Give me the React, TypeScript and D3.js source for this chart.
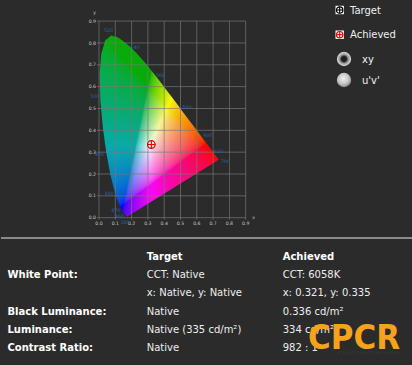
import React, { useMemo } from "react";
import * as d3 from "d3";

// CIE 1931 spectral locus (wavelength nm, x, y)
const WAVELENGTHS = [380,385,390,395,400,405,410,415,420,425,430,435,440,445,450,455,460,465,470,475,480,485,490,495,500,505,510,515,520,525,530,535,540,545,550,555,560,565,570,575,580,585,590,595,600,605,610,615,620,625,630,635,640,645,650,655,660,665,670,675,680,685,690,695,700];
const LOCUS_X = [0.1741,0.1740,0.1738,0.1736,0.1733,0.1730,0.1726,0.1721,0.1714,0.1703,0.1689,0.1669,0.1644,0.1611,0.1566,0.1510,0.1440,0.1355,0.1241,0.1096,0.0913,0.0687,0.0454,0.0235,0.0082,0.0039,0.0139,0.0389,0.0743,0.1142,0.1547,0.1929,0.2296,0.2658,0.3016,0.3373,0.3731,0.4087,0.4441,0.4788,0.5125,0.5448,0.5752,0.6029,0.6270,0.6482,0.6658,0.6801,0.6915,0.7006,0.7079,0.7140,0.7190,0.7230,0.7260,0.7283,0.7300,0.7311,0.7320,0.7327,0.7334,0.7340,0.7344,0.7346,0.7347];
const LOCUS_Y = [0.0050,0.0050,0.0049,0.0049,0.0048,0.0048,0.0048,0.0048,0.0051,0.0058,0.0069,0.0086,0.0109,0.0138,0.0177,0.0227,0.0297,0.0399,0.0578,0.0868,0.1327,0.2007,0.2950,0.4127,0.5384,0.6548,0.7502,0.8120,0.8338,0.8262,0.8059,0.7816,0.7543,0.7243,0.6923,0.6589,0.6245,0.5896,0.5547,0.5202,0.4866,0.4544,0.4242,0.3965,0.3725,0.3514,0.3340,0.3197,0.3083,0.2993,0.2920,0.2859,0.2809,0.2770,0.2740,0.2717,0.2700,0.2689,0.2680,0.2673,0.2666,0.2660,0.2656,0.2654,0.2653];
const LABELED_WAVELENGTHS = [380, 460, 470, 480, 490, 500, 520, 540, 560, 580, 600, 620, 700];

const TICKS = [0, 0.1, 0.2, 0.3, 0.4, 0.5, 0.6, 0.7, 0.8, 0.9];
const TICK_LABELS = ["0.0", "0.1", "0.2", "0.3", "0.4", "0.5", "0.6", "0.7", "0.8", "0.9"];

const ACHIEVED_X = 0.321;
const ACHIEVED_Y = 0.335;

const LEGEND_ITEMS = ["Target", "Achieved"];
const RADIO_ITEMS = ["xy", "u'v'"];

const COL_HEADERS = ["Target", "Achieved"];
const ROW_LABELS = ["White Point:", "", "Black Luminance:", "Luminance:", "Contrast Ratio:"];
const TARGET_VALUES = ["CCT: Native", "x: Native, y: Native", "Native", "Native (335 cd/m²)", "Native"];
const ACHIEVED_VALUES = ["CCT: 6058K", "x: 0.321, y: 0.335", "0.336 cd/m²", "334 cd/m²", "982 : 1"];

const W = 412;
const H = 365;
const BG = "#2b2b2b";
const FONT = "'DejaVu Sans', Verdana, sans-serif";

const xScale = d3.scaleLinear().domain([0, 0.9]).range([99, 245.7]);
const yScale = d3.scaleLinear().domain([0, 0.9]).range([217.7, 21.1]);

function xyToRgb(x: number, y: number): [number, number, number] {
  const Y = 1;
  const X = (x / y) * Y;
  const Z = ((1 - x - y) / y) * Y;
  let r = 3.2406 * X - 1.5372 * Y - 0.4986 * Z;
  let g = -0.9689 * X + 1.8758 * Y + 0.0415 * Z;
  let b = 0.0557 * X - 0.204 * Y + 1.057 * Z;
  r = Math.max(0, r);
  g = Math.max(0, g);
  b = Math.max(0, b);
  const m = Math.max(r, g, b) || 1;
  const gam = (c: number) => {
    c = c / m;
    return c <= 0.0031308 ? 12.92 * c : 1.055 * Math.pow(c, 1 / 2.4) - 0.055;
  };
  let R = gam(r), G = gam(g), B = gam(b);
  // muted greens, like the reference rendering
  const k = 1 - 0.32 * Math.max(0, G - R);
  R *= k; G *= k; B *= k;
  // slight overall softening of saturated colours
  const soft = (c: number) => c * 0.94 + 0.03;
  return [soft(R) * 255, soft(G) * 255, soft(B) * 255];
}

function useGamutImage() {
  return useMemo(() => {
    const x0 = xScale(0), x1 = xScale(0.76);
    const y0 = yScale(0.86), y1 = yScale(0);
    const s = 3;
    const w = Math.ceil((x1 - x0) * s);
    const h = Math.ceil((y1 - y0) * s);
    if (typeof document === "undefined") return null;
    const canvas = document.createElement("canvas");
    canvas.width = w;
    canvas.height = h;
    const ctx = canvas.getContext("2d");
    if (!ctx) return null;
    const img = ctx.createImageData(w, h);
    for (let j = 0; j < h; j++) {
      const dy = yScale.invert(y0 + (j + 0.5) / s);
      for (let i = 0; i < w; i++) {
        const dx = xScale.invert(x0 + (i + 0.5) / s);
        const k = (j * w + i) * 4;
        if (dy <= 0.001) {
          img.data[k + 3] = 0;
          continue;
        }
        const [r, g, b] = xyToRgb(dx, Math.max(dy, 0.003));
        img.data[k] = r;
        img.data[k + 1] = g;
        img.data[k + 2] = b;
        img.data[k + 3] = 255;
      }
    }
    ctx.putImageData(img, 0, 0);
    return { href: canvas.toDataURL(), x: x0, y: y0, w: w / s, h: h / s };
  }, []);
}

function CrossMarker({ cx, cy, r, color }: { cx: number; cy: number; r: number; color: string }) {
  return (
    <g>
      <circle cx={cx} cy={cy} r={r} fill="none" stroke={color} strokeWidth={1.2} />
      <line x1={cx - r} x2={cx + r} y1={cy} y2={cy} stroke={color} strokeWidth={1.1} />
      <line x1={cx} x2={cx} y1={cy - r} y2={cy + r} stroke={color} strokeWidth={1.1} />
    </g>
  );
}

export default function App() {
  const gamut = useGamutImage();
  const locusPts: [number, number][] = WAVELENGTHS.map((_, i) => [xScale(LOCUS_X[i]), yScale(LOCUS_Y[i])]);
  const locusPath = d3.line().curve(d3.curveLinearClosed)(locusPts) || "";

  const wx = xScale(1 / 3), wy = yScale(1 / 3);
  const labelPos = LABELED_WAVELENGTHS.map((wl) => {
    const i = WAVELENGTHS.indexOf(wl);
    const [px, py] = locusPts[i];
    const dx = px - wx, dy = py - wy;
    const len = Math.hypot(dx, dy) || 1;
    return { wl, x: px + (dx / len) * 7, y: py + (dy / len) * 6 };
  });

  const gridColor = "#7a7a7a";
  const rowY = (i: number) => 256 + i * 18.35;

  return (
    <svg width={W} height={H} style={{ position: "absolute", left: 0, top: 0, display: "block" }} fontFamily={FONT}>
      <defs>
        <clipPath id="locusClip">
          <path d={locusPath} />
        </clipPath>
        <radialGradient id="radioOff" cx="45%" cy="40%" r="60%">
          <stop offset="0%" stopColor="#f0f0f0" />
          <stop offset="60%" stopColor="#c8c8c8" />
          <stop offset="100%" stopColor="#8a8a8a" />
        </radialGradient>
        <radialGradient id="radioOn" cx="50%" cy="50%" r="55%">
          <stop offset="0%" stopColor="#111" />
          <stop offset="35%" stopColor="#2a2a2a" />
          <stop offset="55%" stopColor="#9a9a9a" />
          <stop offset="85%" stopColor="#cfcfcf" />
          <stop offset="100%" stopColor="#7d7d7d" />
        </radialGradient>
      </defs>
      <rect x={0} y={0} width={W} height={H} fill={BG} />

      {/* gamut fill */}
      {gamut && (
        <image
          href={gamut.href}
          x={gamut.x}
          y={gamut.y}
          width={gamut.w}
          height={gamut.h}
          preserveAspectRatio="none"
          clipPath="url(#locusClip)"
        />
      )}

      {/* grid */}
      <g>
        {TICKS.map((t) => (
          <line key={"v" + t} x1={xScale(t)} x2={xScale(t)} y1={yScale(0) + 2} y2={yScale(0.9)} stroke={gridColor} strokeWidth={0.8} opacity={0.85} />
        ))}
        {TICKS.map((t) => (
          <line key={"h" + t} x1={xScale(0) - 2} x2={xScale(0.9)} y1={yScale(t)} y2={yScale(t)} stroke={gridColor} strokeWidth={0.8} opacity={0.85} />
        ))}
      </g>

      {/* tick labels */}
      <g fontSize={4.6} fill="#c8c8c8">
        {TICKS.map((t, i) => (
          <text key={"xl" + t} x={xScale(t)} y={yScale(0) + 7.5} textAnchor="middle">
            {TICK_LABELS[i]}
          </text>
        ))}
        {TICKS.map((t, i) => (
          <text key={"yl" + t} x={xScale(0) - 3} y={yScale(t) + 1.6} textAnchor="end">
            {TICK_LABELS[i]}
          </text>
        ))}
        <text x={xScale(0) - 3} y={14} textAnchor="end">y</text>
        <text x={xScale(0.9) + 8} y={yScale(0) + 1} textAnchor="middle">x</text>
      </g>

      {/* wavelength labels */}
      <g fontSize={4.8} fill="#2a63a8">
        {labelPos.map((l) => (
          <text key={l.wl} x={l.x} y={l.y + 1.7} textAnchor="middle">
            {l.wl}
          </text>
        ))}
      </g>

      {/* achieved marker */}
      <CrossMarker cx={xScale(ACHIEVED_X)} cy={yScale(ACHIEVED_Y)} r={3.8} color="#e00000" />

      {/* legend */}
      <g>
        {LEGEND_ITEMS.map((name, i) => {
          const cy = 10 + i * 24.7;
          const color = i === 0 ? "#000" : "#e00000";
          return (
            <g key={name}>
              <rect x={335.5} y={cy - 4.2} width={8.4} height={8.4} fill="#fff" />
              <CrossMarker cx={339.7} cy={cy} r={3.2} color={color} />
              <text x={350} y={cy} dominantBaseline="central" fontSize={10} fill="#f0f0f0">
                {name}
              </text>
            </g>
          );
        })}
        {RADIO_ITEMS.map((name, i) => {
          const cy = 59 + i * 21;
          return (
            <g key={name}>
              <circle cx={344} cy={cy} r={7.2} fill={i === 0 ? "url(#radioOn)" : "url(#radioOff)"} />
              <text x={362} y={cy} dominantBaseline="central" fontSize={10} fill="#f0f0f0">
                {name}
              </text>
            </g>
          );
        })}
      </g>

      {/* separator */}
      <line x1={1} x2={W} y1={238} y2={238} stroke="#8a8a8a" strokeWidth={2} />

      {/* table */}
      <g fontSize={10} fill="#ffffff">
        {COL_HEADERS.map((h, i) => (
          <text key={h} x={i === 0 ? 146.7 : 282.7} y={rowY(0)} dominantBaseline="central" fontWeight="bold">
            {h}
          </text>
        ))}
        {ROW_LABELS.map((lab, i) => (
          <g key={i}>
            {lab && (
              <text x={7.5} y={rowY(i + 1)} dominantBaseline="central" fontWeight="bold">
                {lab}
              </text>
            )}
            <text x={146.7} y={rowY(i + 1)} dominantBaseline="central" fill="#eeeeee">
              {TARGET_VALUES[i]}
            </text>
            <text x={282.7} y={rowY(i + 1)} dominantBaseline="central" fill="#eeeeee">
              {ACHIEVED_VALUES[i]}
            </text>
          </g>
        ))}
      </g>

      {/* watermark */}
      <g>
        <text x={308} y={349} fontSize={34} fontWeight="bold" fill="#f7a21b" textLength={92} lengthAdjust="spacingAndGlyphs" fontFamily="'DejaVu Sans', sans-serif">
          CPCR
        </text>
        <text x={338} y={353.5} fontSize={3.6} fill="#3a3a3a" textLength={62} lengthAdjust="spacingAndGlyphs">
          CUSTOMPCREVIEW
        </text>
      </g>
    </svg>
  );
}
